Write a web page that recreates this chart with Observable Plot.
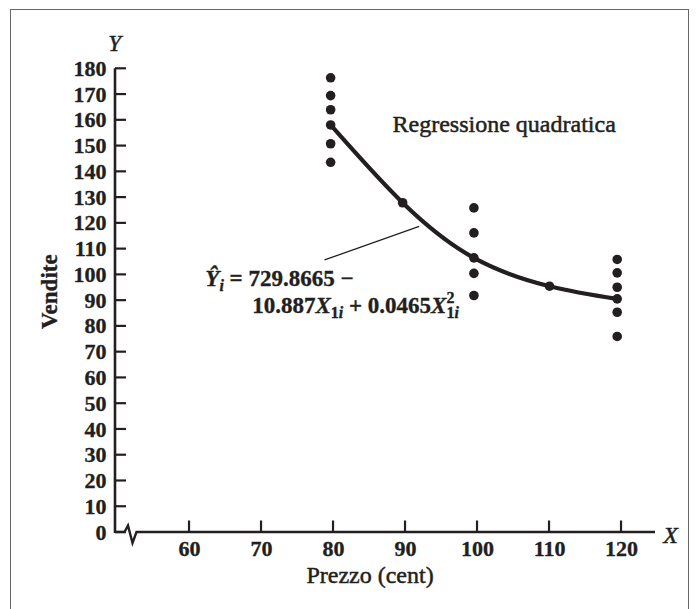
<!DOCTYPE html>
<html>
<head>
<meta charset="utf-8">
<script src="https://cdn.jsdelivr.net/npm/d3@7"></script>
<script src="https://cdn.jsdelivr.net/npm/@observablehq/plot@0.6"></script>
<style>
html, body { margin: 0; padding: 0; background: #fff; }
#wrap { position: relative; width: 698px; height: 609px; overflow: hidden; }
#frame { position: absolute; left: 10px; top: 9px; width: 679px; height: 660px; border: 1.5px solid #666; box-sizing: border-box; pointer-events: none; }
#wrap svg { position: absolute; left: 0; top: 0; }
</style>
</head>
<body>
<div id="wrap"><div id="frame"></div></div>
<script>
// ---- data ----
const xTicks = [60, 70, 80, 90, 100, 110, 120];
const yTicks = [0, 10, 20, 30, 40, 50, 60, 70, 80, 90, 100, 110, 120, 130, 140, 150, 160, 170, 180];

const priceLevels = [79.6, 89.6, 99.5, 110, 119.4];
const salesAt80 = [176.5, 169.6, 164.1, 158.2, 150.9, 143.7];
const salesAt90 = [128.0];
const salesAt100 = [126.0, 116.3, 106.6, 100.6, 92.0];
const salesAt110 = [95.6];
const salesAt120 = [106.0, 100.8, 95.2, 90.7, 85.5, 76.1];

const curvePrice = [79.6, 89.6, 99.5, 110, 119.4];
const curveSales = [158.2, 128.0, 106.6, 95.6, 90.7];

const xLabel = "Prezzo (cent)";
const yLabel = "Vendite";
const noteLabel = "Regressione quadratica";
const formulaLine1 = "Ŷi = 729.8665 −";
const formulaLine2 = "10.887X1i + 0.0465X21i";

// ---- tables built from the arrays ----
const salesGroups = [salesAt80, salesAt90, salesAt100, salesAt110, salesAt120];
const points = salesGroups.flatMap((arr, k) => arr.map(s => ({price: priceLevels[k], sales: s})));
const curve = curvePrice.map((p, k) => ({price: p, sales: curveSales[k]}));
const leader = [{x1: 78.75, y1: 105.8, x2: 91.9, y2: 118.8}];

const xDomain = [49.72, 124.72];
const ink = "#231f20";
const font = "'Liberation Serif', 'Times New Roman', serif";
const heavy = {stroke: ink, strokeWidth: 0.5, paintOrder: "stroke"};
const heavyB = {stroke: ink, strokeWidth: 0.35, paintOrder: "stroke"};

const plot = Plot.plot({
  width: 698,
  height: 609,
  marginLeft: 115,
  marginRight: 43,
  marginTop: 68.3,
  marginBottom: 77,
  x: {domain: xDomain, axis: null},
  y: {domain: [0, 180], axis: null},
  style: {fontFamily: font, background: "transparent", color: ink, overflow: "visible"},
  marks: [
    Plot.line(curve, {x: "price", y: "sales", curve: "natural", stroke: ink, strokeWidth: 4.2}),
    Plot.dot(points, {x: "price", y: "sales", r: 4.8, fill: ink, stroke: null}),
    Plot.link(leader, {x1: "x1", y1: "y1", x2: "x2", y2: "y2", stroke: ink, strokeWidth: 1.3}),
    Plot.text(yTicks, {x: () => xDomain[0], y: d => d, text: d => String(d), textAnchor: "end", dx: -9, fontSize: 22, fontWeight: "bold", fill: ink, ...heavyB}),
    Plot.text(xTicks, {x: d => d, y: () => 0, text: d => String(d), dy: 16, fontSize: 22, fontWeight: "bold", fill: ink, ...heavyB}),
    Plot.text([noteLabel], {x: 88.2, y: 158.5, text: d => d, textAnchor: "start", fontSize: 24, fill: ink, ...heavy}),
    Plot.text([xLabel], {x: 85.07, y: -16.7, text: d => d, fontSize: 24, fill: ink, ...heavy}),
    Plot.text([yLabel], {x: 40.6, y: 93.5, text: d => d, rotate: -90, fontSize: 23, fontWeight: "bold", fill: ink, ...heavyB}),
    Plot.text(["Y"], {x: 49.6, y: 189.8, text: d => d, fontSize: 23, fontStyle: "italic", fill: ink, ...heavy}),
    Plot.text(["X"], {x: 126.8, y: -1.2, text: d => d, fontSize: 24, fontStyle: "italic", fill: ink, ...heavy}),
    Plot.text([formulaLine1], {x: 62.2, y: 98.4, text: d => d, textAnchor: "start", fontSize: 23, fontWeight: "bold", fill: ink, ...heavyB}),
    Plot.text([formulaLine2], {x: 68.7, y: 88.1, text: d => d, textAnchor: "start", fontSize: 23, fontWeight: "bold", fill: ink, ...heavyB})
  ]
});

document.getElementById("wrap").prepend(plot);

// ---- axes drawn through the plot's own scales ----
const sx = plot.scale("x"), sy = plot.scale("y");
const svg = d3.select(plot);
const g = svg.append("g").attr("fill", "none").attr("stroke", ink);
const ax = sx.apply(xDomain[0]);
const ay0 = sy.apply(0);
const ayTop = sy.apply(yTicks[yTicks.length - 1]);
const axEnd = sx.apply(xDomain[1]);
// y axis line
g.append("line").attr("x1", ax).attr("x2", ax).attr("y1", ayTop).attr("y2", ay0 + 1).attr("stroke-width", 2.6);
// x axis with break
g.append("path").attr("stroke-width", 2.4).attr("stroke-linejoin", "miter")
  .attr("d", `M${ax},${ay0} H${ax + 9.5} L${ax + 13},${ay0 - 6.5} L${ax + 17.5},${ay0 + 11} L${ax + 21.5},${ay0} H${axEnd}`);
// y ticks (inward)
for (const v of yTicks) {
  const y = sy.apply(v);
  g.append("line").attr("x1", ax).attr("x2", ax + 11).attr("y1", y).attr("y2", y).attr("stroke-width", 2.2);
}
// x ticks (inward)
for (const v of xTicks) {
  const x = sx.apply(v);
  g.append("line").attr("x1", x).attr("x2", x).attr("y1", ay0).attr("y2", ay0 - 11.5).attr("stroke-width", 2.2);
}

// ---- rich text for the formula (italics, subscripts, superscript) ----
function rich(content, parts) {
  svg.selectAll("text").filter(function() { return this.textContent === content; }).each(function() {
    const t = d3.select(this);
    t.text(null);
    for (const p of parts) {
      const s = t.append("tspan").text(p.t);
      if (p.i) s.attr("font-style", "italic");
      if (p.fs) s.attr("font-size", p.fs);
      if (p.dy) s.attr("dy", p.dy);
      if (p.dx) s.attr("dx", p.dx);
    }
  });
}
rich(formulaLine1, [
  {t: "Ŷ", i: 1},
  {t: "i", i: 1, fs: 16, dy: 5},
  {t: " = 729.8665 −", dy: -5}
]);
rich(formulaLine2, [
  {t: "10.887"},
  {t: "X", i: 1},
  {t: "1", fs: 16, dy: 5},
  {t: "i", i: 1, fs: 16},
  {t: " + 0.0465", dy: -5},
  {t: "X", i: 1},
  {t: "2", fs: 16, dy: -10},
  {t: "1", fs: 16, dy: 15, dx: -8},
  {t: "i", i: 1, fs: 16}
]);
</script>
</body>
</html>
